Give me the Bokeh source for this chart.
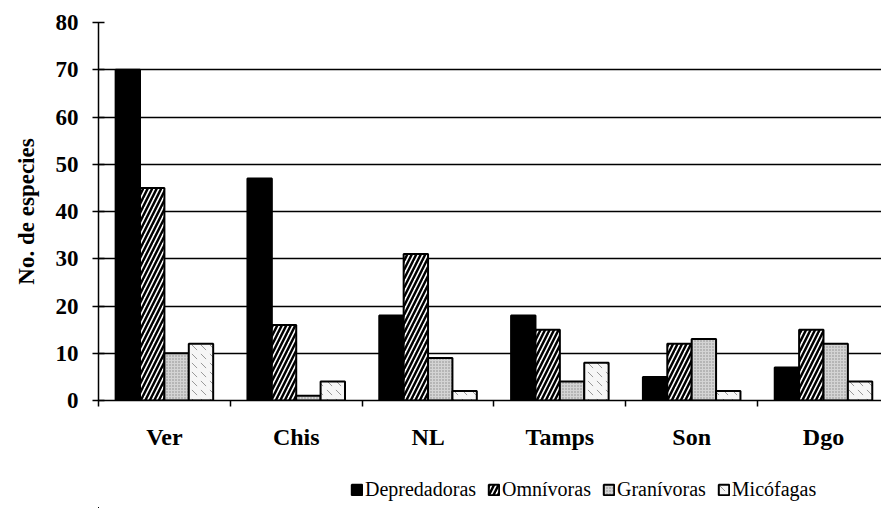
import numpy as np
from bokeh.plotting import figure
from bokeh.layouts import column
from bokeh.models import (ColumnDataSource, Range1d, FixedTicker, Legend, LegendItem)
from bokeh.transform import dodge
from bokeh.embed import file_html
from bokeh.resources import INLINE

categories = ["Ver", "Chis", "NL", "Tamps", "Son", "Dgo"]
depredadoras = [70, 47, 18, 18, 5, 7]
omnivoras = [45, 16, 31, 15, 12, 15]
granivoras = [10, 1, 9, 4, 13, 12]
micofagas = [12, 4, 2, 8, 2, 4]
series_names = ["Depredadoras", "Omnívoras", "Granívoras", "Micófagas"]
y_ticks = [0, 10, 20, 30, 40, 50, 60, 70, 80]

FONT = "Liberation Serif"

pos = np.arange(1, len(categories) + 1)
src = ColumnDataSource(dict(
    pos=pos, dep=depredadoras, omn=omnivoras, gra=granivoras, mic=micofagas))

p = figure(frame_width=783, frame_height=378, output_backend="svg", toolbar_location=None,
           x_range=Range1d(0.5, 0.5 + 5.94), y_range=Range1d(0, 80),
           min_border_left=98, min_border_top=22, min_border_right=0,
           min_border_bottom=70)
p.outline_line_color = None
p.background_fill_color = "white"
p.border_fill_color = "white"

bw = 0.185
styles = [
    dict(fill_color="black", line_color="black", line_width=2),
    dict(fill_color="white", line_color="black", line_width=2,
         hatch_pattern="right_diagonal_line", hatch_color="black",
         hatch_scale=9, hatch_weight=2.5),
    dict(fill_color="#d4d4d4", line_color="black", line_width=2,
         hatch_pattern="dot", hatch_color="#888888", hatch_scale=3, hatch_weight=1),
    dict(fill_color="#f6f6f6", line_color="black", line_width=2,
         hatch_pattern="left_diagonal_dash", hatch_color="#999999",
         hatch_scale=9, hatch_weight=1),
]
offsets = [-0.2775, -0.0925, 0.0925, 0.2775]
cols = ["dep", "omn", "gra", "mic"]
for col, off, st in zip(cols, offsets, styles):
    p.vbar(x=dodge("pos", off), top=col, width=bw, source=src, **st)

# grid
p.xgrid.grid_line_color = None
p.ygrid.grid_line_color = "black"
p.ygrid.grid_line_width = 1.5
p.ygrid.level = "underlay"

# y axis
p.yaxis.ticker = FixedTicker(ticks=y_ticks)
p.yaxis.axis_label = "No. de especies"
p.yaxis.axis_label_text_font = FONT
p.yaxis.axis_label_text_font_style = "bold"
p.yaxis.axis_label_text_font_size = "23px"
p.yaxis.axis_label_text_color = "black"
p.yaxis.axis_label_standoff = 14
p.yaxis.major_label_text_font = FONT
p.yaxis.major_label_text_font_style = "bold"
p.yaxis.major_label_text_font_size = "23px"
p.yaxis.major_label_text_color = "black"
p.yaxis.major_label_standoff = 14
p.yaxis.major_tick_out = 6
p.yaxis.major_tick_in = 6
p.yaxis.major_tick_line_width = 1.5
p.yaxis.minor_tick_line_color = None
p.yaxis.axis_line_color = "black"
p.yaxis.axis_line_width = 1.5

# x axis
p.xaxis.ticker = FixedTicker(ticks=list(pos),
                             minor_ticks=[b + 0.5 for b in range(0, len(categories) + 1)])
p.xaxis.major_label_overrides = {int(i): c for i, c in zip(pos, categories)}
p.xaxis.major_tick_line_color = None
p.xaxis.minor_tick_out = 6
p.xaxis.minor_tick_in = 0
p.xaxis.minor_tick_line_color = "black"
p.xaxis.minor_tick_line_width = 1.5
p.xaxis.major_label_text_font = FONT
p.xaxis.major_label_text_font_style = "bold"
p.xaxis.major_label_text_font_size = "24px"
p.xaxis.major_label_text_color = "black"
p.xaxis.major_label_standoff = 17
p.xaxis.axis_line_color = "black"
p.xaxis.axis_line_width = 1.5

# legend strip (separate small figure below the chart; its bars lie outside its view)
lf = figure(width=881, height=38, output_backend="svg", toolbar_location=None,
            x_range=Range1d(100, 101), y_range=Range1d(100, 101), min_border=0)
lf.axis.visible = False
lf.grid.visible = False
lf.outline_line_color = None
lf.background_fill_color = "white"
lf.border_fill_color = "white"
leg_renderers = [lf.vbar(x=dodge("pos", off), top=col, width=bw, source=src, **st)
                 for col, off, st in zip(cols, offsets, styles)]
legend = Legend(items=[LegendItem(label=n, renderers=[r]) for n, r in
                       zip(series_names, leg_renderers)],
                orientation="horizontal", location=(252, 7),
                label_text_font=FONT, label_text_font_size="20px",
                label_text_color="black",
                glyph_width=13, glyph_height=13, label_standoff=2,
                spacing=11, border_line_color=None, padding=0, margin=0,
                background_fill_alpha=0)
lf.add_layout(legend, "center")

layout = column(p, lf, spacing=0)
open("out.html", "w").write(file_html(layout, INLINE))
